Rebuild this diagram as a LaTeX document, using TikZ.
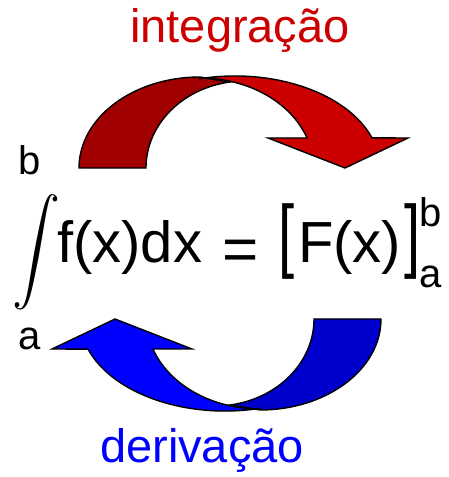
\documentclass[tikz,border=0pt]{standalone}
\usepackage{fontspec}
\setmainfont{Liberation Sans}

\definecolor{intred}{HTML}{CC0000}
\definecolor{intdark}{HTML}{A00000}
\definecolor{derblue}{HTML}{0000FF}
\definecolor{derdark}{HTML}{0000CC}

% the bent arrow: back band #1, front band with head #2
\newcommand{\bentarrow}[2]{%
  \filldraw[band, fill=#1] (79,309) arc[start angle=180, end angle=90, x radius=121, y radius=91]
    -- (229.5,394.9) arc[start angle=99, end angle=180, x radius=99, y radius=87] -- cycle;
  \filldraw[band, fill=#2] (199.9,398.3) arc[start angle=104, end angle=19.1, x radius=145, y radius=92]
    -- (408,339) -- (345,309) -- (268,339) -- (307,339)
    arc[start angle=19.5, end angle=90, x radius=113.5, y radius=90] -- cycle;
}

\begin{document}
\begin{tikzpicture}[x=1pt, y=1pt,
    band/.style={draw=black, line width=1.4pt, line join=miter},
    word/.style={font=\fontsize{47}{47}\selectfont, anchor=base, inner sep=0pt},
    term/.style={font=\fontsize{58}{58}\selectfont, anchor=base west, inner sep=0pt},
    lim/.style={font=\fontsize{40}{40}\selectfont, anchor=base west, inner sep=0pt}]
  \useasboundingbox (0,0) rectangle (448,477);

  % integration arrow (top)
  \bentarrow{intdark}{intred}
  % derivation arrow (bottom), the same one turned round
  \begin{scope}[rotate around={180:(230,233.5)}]
    \bentarrow{derdark}{derblue}
  \end{scope}

  \node[word, text=intred] (integ) at (240,434) {integração};
  \node[word, text=derblue] (deriv) at (202,14) {derivação};

  % the formula
  \node[inner sep=0pt] (int) at (36.5,225) {\scalebox{4.8}[5.2]{$\displaystyle\int$}};
  \node[lim] (intup) at (18,302) {b};
  \node[lim] (intlo) at (18.5,127) {a};
  \node[term] (fx) at (57,214) {f(x)dx};
  \node[term, font=\fontsize{62}{62}\selectfont] (eq) at (222,206.5) {=};
  \node[term] (lbr) at (278,214) {\scalebox{1}[1.4]{[}};
  \node[term] (Fx) at (298,214) {F(x)};
  \node[term] (rbr) at (404,214) {\scalebox{1}[1.4]{]}};
  \node[lim] (up) at (419,250) {b};
  \node[lim] (lo) at (419.5,189) {a};
\end{tikzpicture}
\end{document}
